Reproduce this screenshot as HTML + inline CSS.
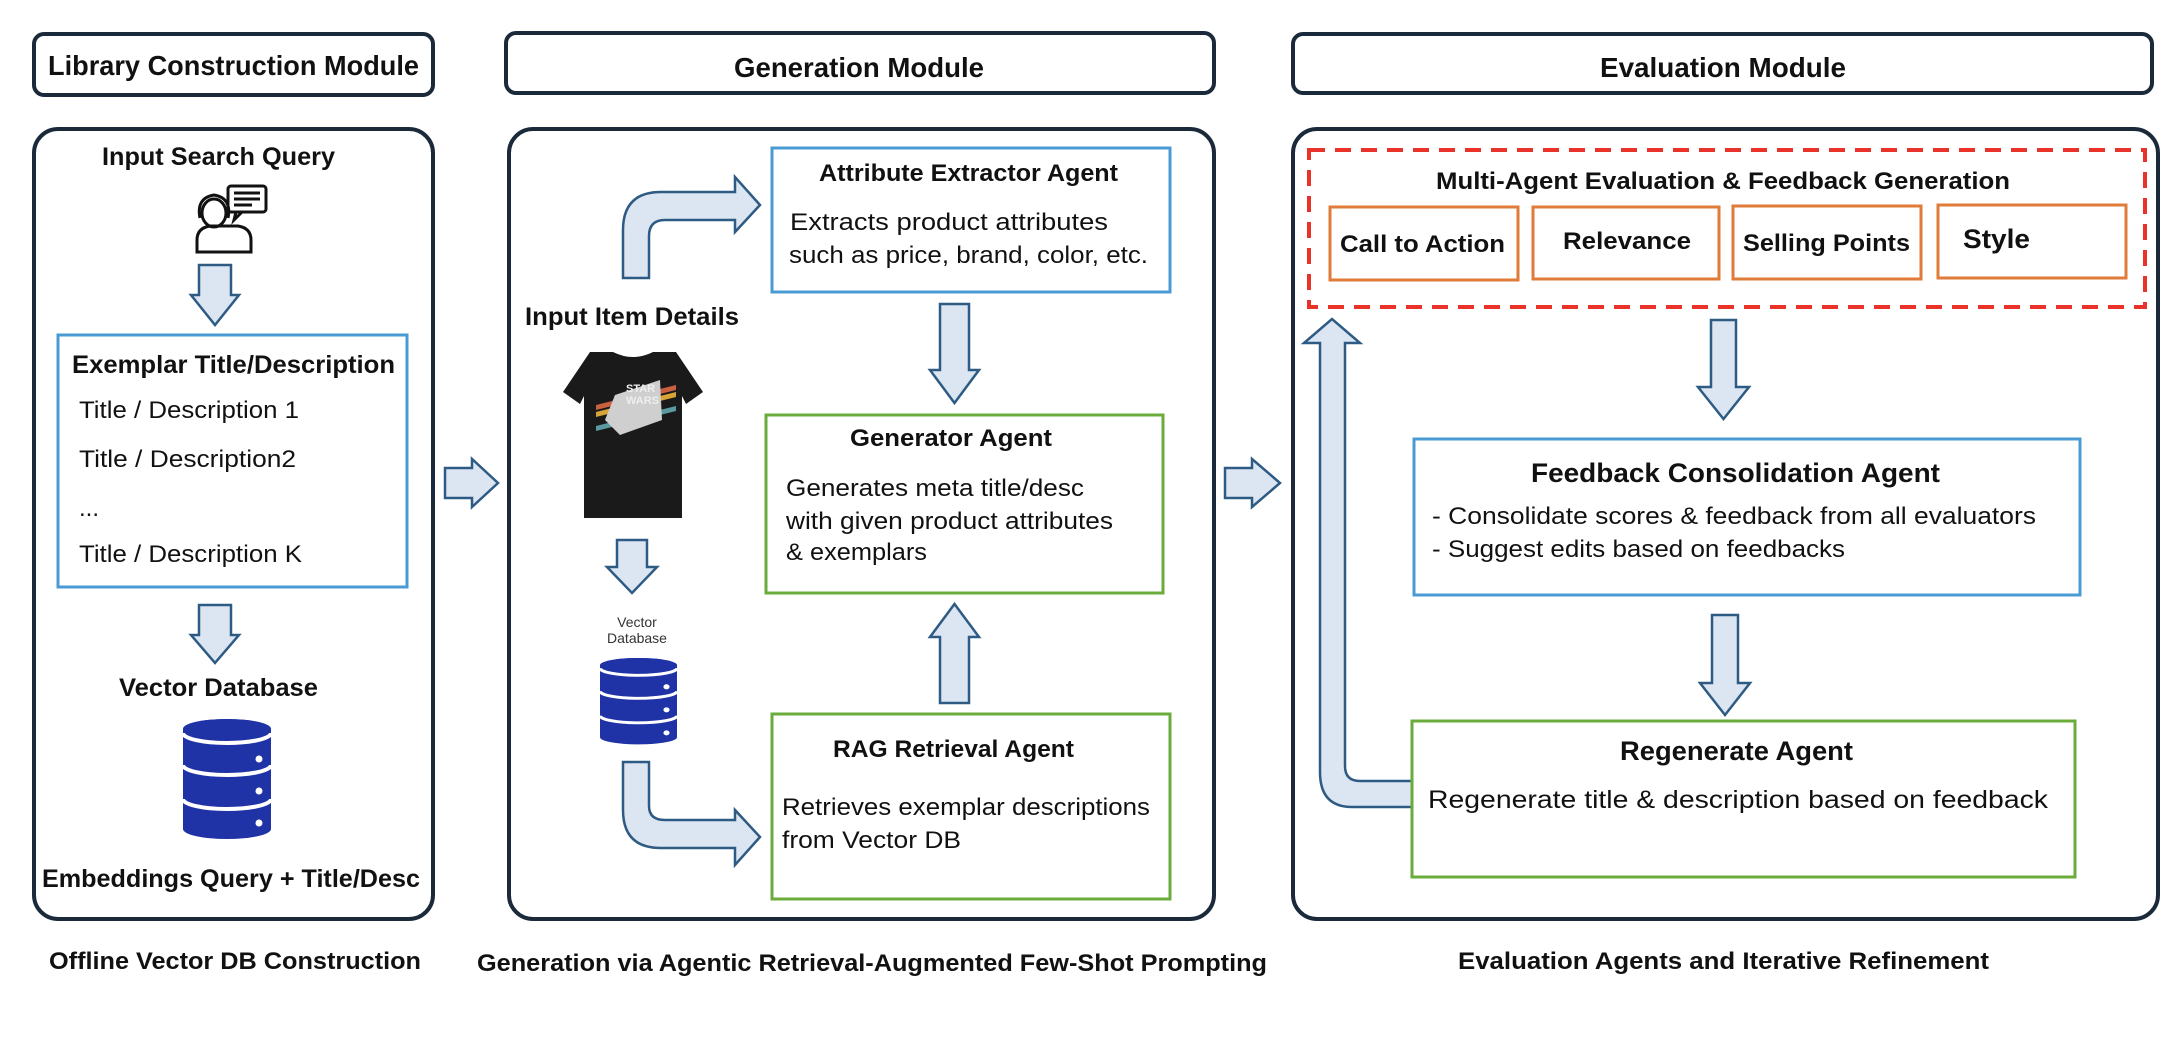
<!DOCTYPE html>
<html><head><meta charset="utf-8"><style>
html,body{margin:0;padding:0;background:#fff;}
svg{display:block;}
text{font-family:"Liberation Sans",sans-serif;fill:#111;}
.b{font-weight:bold;}
</style></head><body>
<svg width="2176" height="1042" viewBox="0 0 2176 1042" xmlns="http://www.w3.org/2000/svg">
<defs>
<g id="db">
  <path d="M0,10 A44,10 0 0 1 88,10 L88,110 A44,10 0 0 1 0,110 Z" fill="#1f33a6"/>
  <ellipse cx="44" cy="10" rx="44" ry="10" fill="#1f33a6"/>
  <path d="M0,14 A44,10 0 0 0 88,14" fill="none" stroke="#fff" stroke-width="4"/>
  <path d="M0,46 A44,10 0 0 0 88,46" fill="none" stroke="#fff" stroke-width="4"/>
  <path d="M0,80 A44,10 0 0 0 88,80" fill="none" stroke="#fff" stroke-width="4"/>
  <circle cx="76" cy="40" r="3.5" fill="#fff"/>
  <circle cx="76" cy="72" r="3.5" fill="#fff"/>
  <circle cx="76" cy="104" r="3.5" fill="#fff"/>
</g>
</defs>

<g fill="#fff" stroke="#1b2a3a" stroke-width="4">
<rect x="34" y="34" width="399" height="61" rx="10"/>
<rect x="506" y="33" width="708" height="60" rx="10"/>
<rect x="1293" y="34" width="859" height="59" rx="10"/>
<rect x="34" y="129" width="399" height="790" rx="24"/>
<rect x="509" y="129" width="705" height="790" rx="24"/>
<rect x="1293" y="129" width="865" height="790" rx="24"/>
</g>
<text x="48" y="75" font-size="28" class="b" textLength="371" lengthAdjust="spacingAndGlyphs">Library Construction Module</text>
<text x="734" y="77" font-size="28" class="b" textLength="250" lengthAdjust="spacingAndGlyphs">Generation Module</text>
<text x="1600" y="77" font-size="28" class="b" textLength="246" lengthAdjust="spacingAndGlyphs">Evaluation Module</text>

<!-- Left panel -->
<text x="102" y="165" font-size="25" class="b" textLength="233" lengthAdjust="spacingAndGlyphs">Input Search Query</text>
<g fill="none" stroke="#111" stroke-width="3">
  <path d="M197,252 L197,240 Q197,228 210,226 L238,226 Q251,228 251,240 L251,252 Z"/>
  <ellipse cx="214" cy="213" rx="12" ry="14"/>
  <path d="M200,218 Q196,198 214,195 Q232,198 228,218"/>
  <rect x="228" y="186" width="38" height="26" rx="3"/>
  <path d="M236,212 L234,220 L242,212"/>
  <line x1="234" y1="193" x2="260" y2="193"/><line x1="234" y1="199" x2="260" y2="199"/><line x1="234" y1="205" x2="252" y2="205"/>
</g>
<g fill="#dce6f2" stroke="#2e5b84" stroke-width="2.5" stroke-linejoin="miter">
<polygon points="199,265 231,265 231,295 239,295 215,325 191,295 199,295"/>
<polygon points="199,605 231,605 231,635 239,635 215,663 191,635 199,635"/>
<polygon points="445,468 472,468 472,459 498,483 472,507 472,498 445,498"/>
<polygon points="1225,468 1252,468 1252,459 1280,483 1252,507 1252,498 1225,498"/>
<polygon points="940,304 969,304 969,370 979,370 954.5,403 930,370 940,370"/>
<polygon points="954.5,604 979,637 969,637 969,703 940,703 940,637 930,637"/>
<polygon points="617,540 647,540 647,567 657,567 632,593 607,567 617,567"/>
<polygon points="1711,320 1736,320 1736,387 1749,387 1723.5,419 1698,387 1711,387"/>
<polygon points="1712,615 1738,615 1738,683 1750,683 1725,715 1700,683 1712,683"/>
<path d="M623,278 L623,230 Q623,192 661,192 L735,192 L735,177 L760,205 L735,232 L735,220 L665,220 Q649,220 649,236 L649,278 Z"/>
<path d="M623,762 L649,762 L649,806 Q649,820 665,820 L735,820 L735,810 L760,837 L735,865 L735,848 L661,848 Q623,848 623,810 Z"/>
<path d="M1412,781 L1360,781 Q1345,781 1345,766 L1345,343 L1360,343 L1332,319 L1304,343 L1320,343 L1320,772 Q1320,807 1352,807 L1412,807 Z"/>
</g>

<rect x="58" y="335" width="349" height="252" fill="none" stroke="#4a9bd4" stroke-width="3"/>
<text x="72" y="373" font-size="25" class="b" textLength="323" lengthAdjust="spacingAndGlyphs">Exemplar Title/Description</text>
<text x="79" y="418" font-size="24" textLength="220" lengthAdjust="spacingAndGlyphs">Title / Description 1</text>
<text x="79" y="467" font-size="24" textLength="217" lengthAdjust="spacingAndGlyphs">Title / Description2</text>
<text x="79" y="516" font-size="24">...</text>
<text x="79" y="562" font-size="24" textLength="223" lengthAdjust="spacingAndGlyphs">Title / Description K</text>
<text x="119" y="696" font-size="25" class="b" textLength="199" lengthAdjust="spacingAndGlyphs">Vector Database</text>
<use href="#db" x="183" y="719"/>
<text x="42" y="887" font-size="25" class="b" textLength="378" lengthAdjust="spacingAndGlyphs">Embeddings Query + Title/Desc</text>
<text x="49" y="969" font-size="24" class="b" textLength="372" lengthAdjust="spacingAndGlyphs">Offline Vector DB Construction</text>

<!-- Generation -->
<text x="525" y="325" font-size="25" class="b" textLength="214" lengthAdjust="spacingAndGlyphs">Input Item Details</text>
<g>
  <path d="M590,352 L613,352 Q633,362 653,352 L676,352 L703,392 L686,404 L682,396 L682,518 L584,518 L584,396 L580,404 L563,392 Z" fill="#1a1a1a"/>
  <polygon points="596,405 676,385 676,390 596,410" fill="#c9603f"/>
  <polygon points="596,412 676,392 676,397 596,417" fill="#d9a437"/>
  <polygon points="596,426 676,406 676,411 596,431" fill="#5a9aa0"/>
  <polygon points="615,395 660,380 662,420 620,435 605,420" fill="#cfcfcf"/>
  <text x="626" y="392" font-size="11" class="b" style="fill:#eee">STAR</text>
  <text x="626" y="404" font-size="11" class="b" style="fill:#eee">WARS</text>
</g>
<text x="637" y="627" font-size="14" text-anchor="middle" style="fill:#333">Vector</text>
<text x="637" y="643" font-size="14" text-anchor="middle" style="fill:#333">Database</text>
<g transform="translate(600 658) scale(0.875 0.72)"><use href="#db"/></g>

<rect x="772" y="148" width="398" height="144" fill="none" stroke="#4a9bd4" stroke-width="3"/>
<text x="819" y="181" font-size="24" class="b" textLength="299" lengthAdjust="spacingAndGlyphs">Attribute Extractor Agent</text>
<text x="790" y="230" font-size="24" textLength="318" lengthAdjust="spacingAndGlyphs">Extracts product attributes</text>
<text x="789" y="263" font-size="24" textLength="359" lengthAdjust="spacingAndGlyphs">such as price, brand, color, etc.</text>

<rect x="766" y="415" width="397" height="178" fill="none" stroke="#6aac3c" stroke-width="3"/>
<text x="850" y="446" font-size="24" class="b" textLength="202" lengthAdjust="spacingAndGlyphs">Generator  Agent</text>
<text x="786" y="496" font-size="24" textLength="298" lengthAdjust="spacingAndGlyphs">Generates meta title/desc</text>
<text x="786" y="529" font-size="24" textLength="327" lengthAdjust="spacingAndGlyphs">with given product attributes</text>
<text x="786" y="560" font-size="24" textLength="141" lengthAdjust="spacingAndGlyphs">&amp; exemplars</text>

<rect x="772" y="714" width="398" height="185" fill="none" stroke="#6aac3c" stroke-width="3"/>
<text x="833" y="757" font-size="24" class="b" textLength="241" lengthAdjust="spacingAndGlyphs">RAG Retrieval Agent</text>
<text x="782" y="815" font-size="24" textLength="368" lengthAdjust="spacingAndGlyphs">Retrieves exemplar descriptions</text>
<text x="782" y="848" font-size="24" textLength="179" lengthAdjust="spacingAndGlyphs">from  Vector DB</text>

<text x="477" y="971" font-size="24" class="b" textLength="790" lengthAdjust="spacingAndGlyphs">Generation via Agentic Retrieval-Augmented Few-Shot Prompting</text>

<!-- Evaluation -->
<rect x="1309" y="150" width="836" height="157" fill="none" stroke="#e8322a" stroke-width="4" stroke-dasharray="16 10"/>
<text x="1436" y="189" font-size="24" class="b" textLength="574" lengthAdjust="spacingAndGlyphs">Multi-Agent Evaluation &amp; Feedback Generation</text>
<g fill="none" stroke="#e07b39" stroke-width="3">
<rect x="1330" y="207" width="188" height="73"/>
<rect x="1533" y="207" width="186" height="72"/>
<rect x="1733" y="206" width="188" height="73"/>
<rect x="1938" y="205" width="188" height="73"/>
</g>
<text x="1340" y="252" font-size="24" class="b" textLength="165" lengthAdjust="spacingAndGlyphs">Call to Action</text>
<text x="1563" y="249" font-size="24" class="b" textLength="128" lengthAdjust="spacingAndGlyphs">Relevance</text>
<text x="1743" y="251" font-size="24" class="b" textLength="167" lengthAdjust="spacingAndGlyphs">Selling Points</text>
<text x="1963" y="248" font-size="27" class="b" textLength="67" lengthAdjust="spacingAndGlyphs">Style</text>

<rect x="1414" y="439" width="666" height="156" fill="none" stroke="#4a9bd4" stroke-width="3"/>
<text x="1531" y="482" font-size="27" class="b" textLength="409" lengthAdjust="spacingAndGlyphs">Feedback Consolidation Agent</text>
<text x="1432" y="524" font-size="24" textLength="604" lengthAdjust="spacingAndGlyphs">- Consolidate scores &amp; feedback from all evaluators</text>
<text x="1432" y="557" font-size="24" textLength="413" lengthAdjust="spacingAndGlyphs">- Suggest edits based on feedbacks</text>

<rect x="1412" y="721" width="663" height="156" fill="none" stroke="#6aac3c" stroke-width="3"/>
<text x="1620" y="760" font-size="27" class="b" textLength="233" lengthAdjust="spacingAndGlyphs">Regenerate Agent</text>
<text x="1428" y="808" font-size="25" textLength="620" lengthAdjust="spacingAndGlyphs">Regenerate title &amp; description based on feedback</text>

<text x="1458" y="969" font-size="24" class="b" textLength="531" lengthAdjust="spacingAndGlyphs">Evaluation Agents and Iterative Refinement</text>
</svg>
</body></html>
